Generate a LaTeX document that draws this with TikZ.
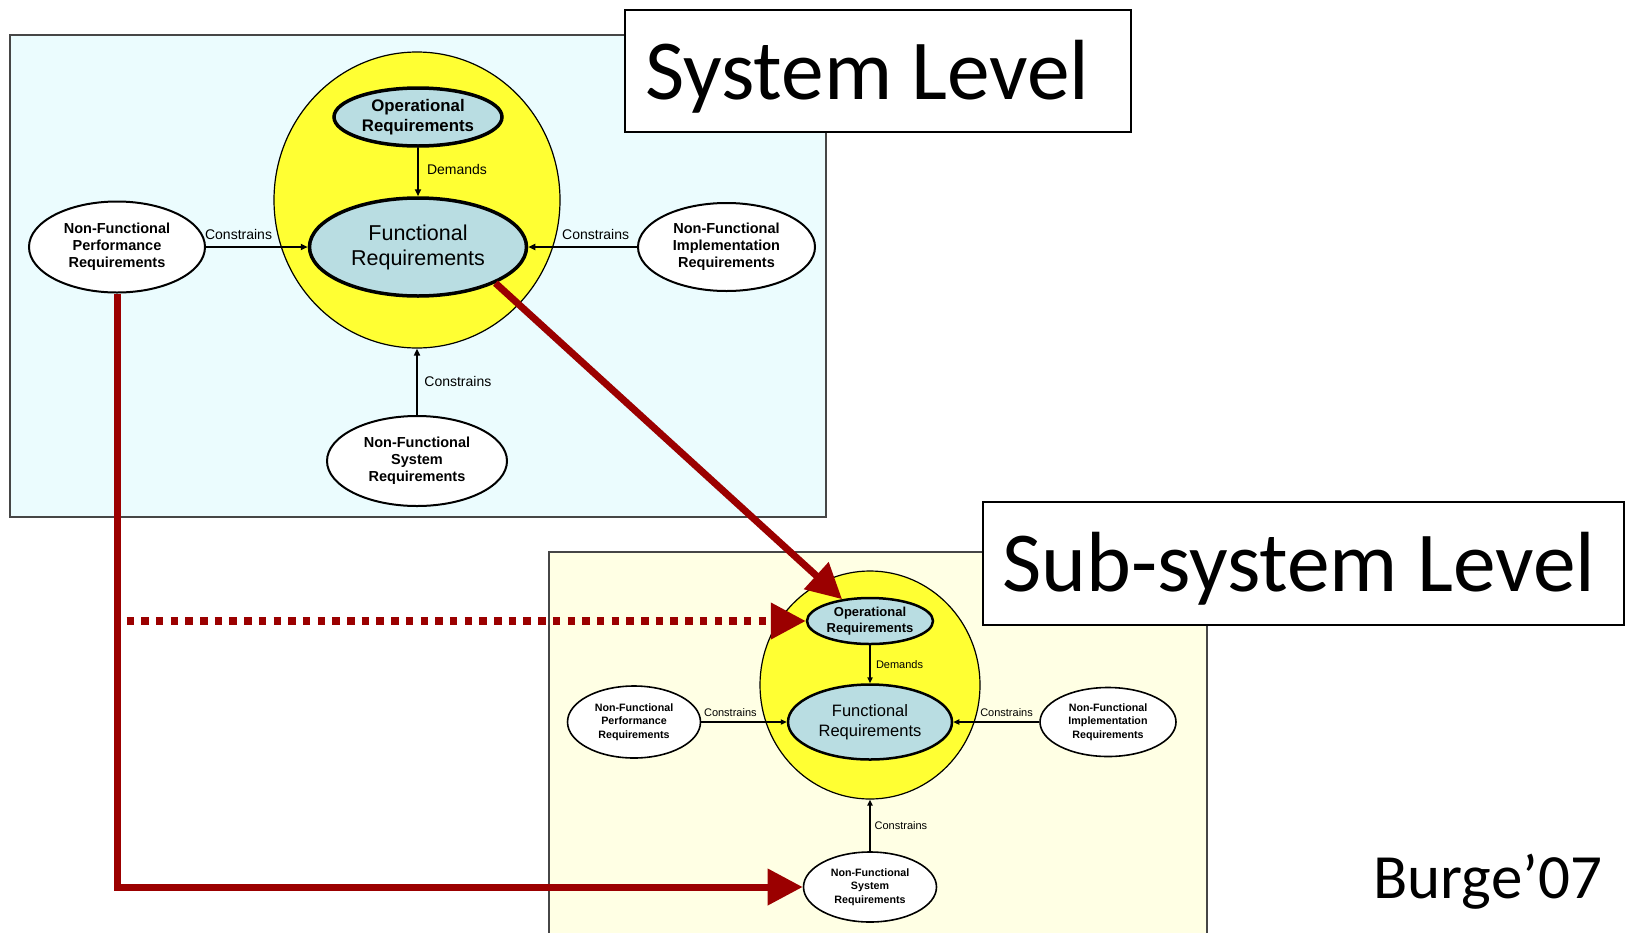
\documentclass[tikz,border=0pt]{standalone}
\usepackage{fontspec}
\setmainfont{Liberation Sans}
\newfontfamily\titlefont{Carlito}
\usetikzlibrary{arrows.meta,shapes.geometric}

\definecolor{cyanbg}{RGB}{235,252,254}
\definecolor{lightyel}{RGB}{255,255,228}
\definecolor{yel}{RGB}{255,255,51}
\definecolor{funcfill}{RGB}{185,221,226}
\definecolor{darkred}{RGB}{155,0,0}
\definecolor{framegray}{RGB}{70,70,70}

\begin{document}
\begin{tikzpicture}[x=0.5pt,y=-0.5pt,
  ell/.style 2 args={ellipse, minimum width=#1pt, minimum height=#2pt,
    inner sep=0pt, align=center},
  levelbox/.style={draw=framegray, line width=0.75pt},
  whiteell/.style={draw=black, fill=white},
  blueell/.style={draw=black, fill=funcfill},
  blk/.style={-{Triangle[length=3.5pt,width=3pt]}, line width=1pt},
  blks/.style={-{Triangle[length=3pt,width=2.6pt]}, line width=1pt},
  lbl/.style={inner sep=1pt, font=\fontsize{7pt}{8pt}\selectfont},
  lbls/.style={inner sep=0.5pt, font=\fontsize{5.5pt}{6.5pt}\selectfont},
  redline/.style={draw=darkred, line width=3.5pt,
    -{Triangle[length=17.5pt,width=17.5pt]}},
  reddot/.style={draw=darkred, line width=3.75pt, dash pattern=on 3.75pt off 3.6pt,
    -{Triangle[length=17.5pt,width=17.5pt]}},
  titlebox/.style={draw=black, line width=0.75pt, fill=white, inner sep=0pt},
  titletext/.style={font=\titlefont\fontsize{42.7pt}{49pt}\selectfont, inner sep=0pt},
]
\useasboundingbox (0,0) rectangle (1626,932);
\fill[white] (0,0) rectangle (1626,932);

% ---------- system level panel ----------
\draw[levelbox, fill=cyanbg] (10,35) rectangle (826,517);

\node[ell={143}{148}, draw=black, line width=0.6pt, fill=yel] (ysys) at (417,200) {};

\node[ell={84}{29}, blueell, line width=1.75pt,
      font=\bfseries\fontsize{8.4pt}{9.8pt}\selectfont] (op) at (418,117)
      {\raisebox{-1.5pt}{Operational}\\\raisebox{-1.5pt}{Requirements}};
\node[ell={108.5}{49}, blueell, line width=1.75pt,
      font=\fontsize{10.75pt}{12.5pt}\selectfont] (func) at (418,247)
      {Functional\\Requirements};
\node[ell={88}{45.5}, whiteell, line width=1pt,
      font=\bfseries\fontsize{7.25pt}{8.5pt}\selectfont] (perf) at (117,247)
      {Non-Functional\\Performance\\Requirements};
\node[ell={88.5}{44}, whiteell, line width=1pt,
      font=\bfseries\fontsize{7.25pt}{8.5pt}\selectfont] (impl) at (726.5,247)
      {Non-Functional\\Implementation\\Requirements};
\node[ell={90}{45}, whiteell, line width=1pt,
      font=\bfseries\fontsize{7.25pt}{8.5pt}\selectfont] (sysnf) at (417,461)
      {Non-Functional\\System\\Requirements};

\draw[blk] (op) -- (func) node[lbl, pos=0.45, right=3pt] (dem) {Demands};
\draw[blk, line width=1.3pt] (perf) -- (func)
  node[lbl, pos=0.32, above=2pt] (c1) {Constrains};
\draw[blk, line width=1.3pt] (impl) -- (func)
  node[lbl, pos=0.38, above=2pt] (c2) {Constrains};
\draw[blk] (sysnf) -- (ysys.south)
  node[lbl, midway, right=2.2pt] (c3) {Constrains};

% ---------- sub-system level panel ----------
\fill[lightyel] (549,552) rectangle (1207,934);
\draw[levelbox] (549,934) -- (549,552) -- (1207,552) -- (1207,934);

\node[ell={110}{114}, draw=black, line width=0.6pt, fill=yel] (ysub) at (870,685) {};

\node[ell={63}{23}, blueell, line width=1.25pt,
      font=\bfseries\fontsize{6.5pt}{8pt}\selectfont] (subop) at (870,621)
      {Operational\\Requirements};
\node[ell={82}{37.5}, blueell, line width=1.25pt,
      font=\fontsize{8.25pt}{10pt}\selectfont] (subfunc) at (870,722)
      {Functional\\Requirements};
\node[ell={66.5}{36}, whiteell, line width=0.8pt,
      font=\bfseries\fontsize{5.35pt}{6.65pt}\selectfont] (subperf) at (634,722)
      {Non-Functional\\Performance\\Requirements};
\node[ell={68}{34.5}, whiteell, line width=0.8pt,
      font=\bfseries\fontsize{5.35pt}{6.65pt}\selectfont] (subimpl) at (1108,722)
      {Non-Functional\\Implementation\\Requirements};
\node[ell={66.5}{35}, whiteell, line width=0.8pt,
      font=\bfseries\fontsize{5.35pt}{6.65pt}\selectfont] (subnf) at (870,887)
      {Non-Functional\\System\\Requirements};

\draw[blks] (subop) -- (subfunc) node[lbls, midway, right=2pt] (sdem) {Demands};
\draw[blks, line width=1.3pt] (subperf) -- (subfunc)
  node[lbls, pos=0.34, above=1.5pt] (sc1) {Constrains};
\draw[blks, line width=1.3pt] (subimpl) -- (subfunc)
  node[lbls, pos=0.38, above=1.5pt] (sc2) {Constrains};
\draw[blks] (subnf) -- (ysub.south)
  node[lbls, midway, right=1.3pt] (sc3) {Constrains};

% ---------- flow-down connectors ----------
\coordinate (dotstart) at (126.5,621);
\draw[reddot] (dotstart) -- (subop.west);
\draw[redline] (perf.south) |- (subnf.west);
\draw[redline] (func.-25) -- (subop.142);

% ---------- level titles ----------
\node[titlebox, minimum width=253pt, minimum height=61pt] (sysbox) at (878,71) {};
\node[titletext, anchor=base west] (systitle) at (645,99) {System Level};
\node[titlebox, minimum width=320.5pt, minimum height=61.5pt] (subbox) at (1303.5,563.5) {};
\node[titletext, anchor=base west] (subtitle) at (1002,591.7) {Sub-system Level};

\node[font=\titlefont\fontsize{31.5pt}{36pt}\selectfont, inner sep=0pt, anchor=base west]
  (credit) at (1373,898) {Burge’07};
\end{tikzpicture}
\end{document}
